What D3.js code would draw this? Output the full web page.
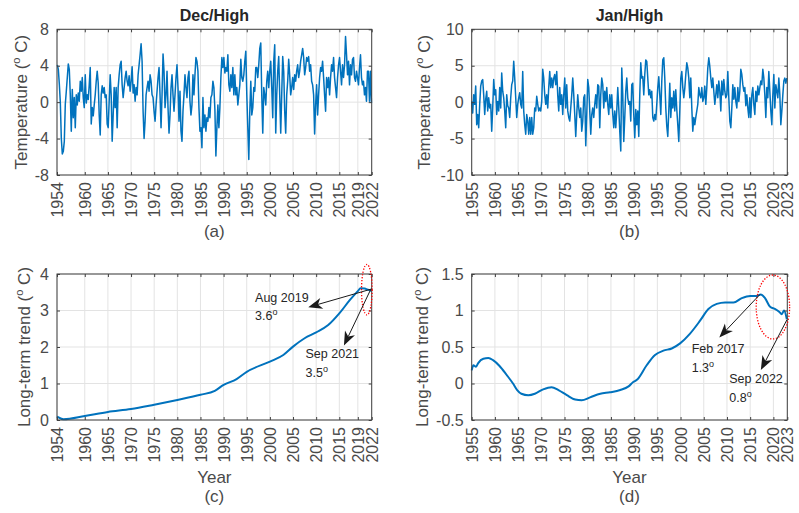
<!DOCTYPE html>
<html><head><meta charset="utf-8">
<script src="https://cdn.jsdelivr.net/npm/d3@7"></script>
<style>body{margin:0;background:#fff}</style>
</head><body><svg id="c" width="799" height="513"></svg>
<script>
// ---------------- DATA ----------------
// (a) Dec/High monthly anomalies (sampled evenly from 1954.07 to 2021.95)
const decHigh = [4.1,3.6,2.0,0.0,-4.0,-5.7,-5.4,-4.3,-0.2,1.2,2.7,4.2,
3.6,0.8,-3.2,1.4,-1.7,0.5,-2.8,0.8,-0.3,1.0,0.1,2.3,1.2,2.7,0.5,-0.6,
3.0,-0.1,0.8,0.3,1.9,3.8,-2.4,-0.6,-1.5,-0.3,0.8,2.3,3.4,2.1,-1.4,-3.6,0.8,1.8,1.0,1.6,0.5,0.8,-2.4,-2.8,0.1,3.0,0.8,-4.3,-1.4,1.6,-0.6,1.6,-2.8,1.6,3.0,4.1,4.5,1.9,0.5,1.6,2.7,3.4,2.3,1.8,2.9,1.2,2.3,3.9,1.0,1.9,0.1,1.6,0.8,3.0,4.1,5.2,6.4,4.5,-1.0,-4.0,-2.1,0.8,1.6,2.3,1.2,3.0,2.3,0.8,0.5,-1.0,-2.1,-0.3,1.2,2.7,3.8,0.8,-2.8,0.8,5.3,3.4,-0.6,0.8,3.4,-0.6,-3.4,-1.4,1.6,3.0,0.8,-1.0,0.8,2.7,4.1,1.6,-2.1,1.2,-3.2,-4.3,-1.0,0.8,3.0,1.6,0.5,2.7,3.4,0.1,-1.4,-0.3,3.0,0.8,3.0,4.9,4.5,3.4,-0.6,-3.2,-2.8,-5.0,0.5,-2.8,-1.4,-3.2,-1.7,-2.1,-0.6,-1.7,0.5,0.8,2.3,
1.6,-0.8,-5.9,-2.8,-0.3,-2.8,-0.6,2.7,4.9,3.8,4.9,3.2,3.8,3.4,5.2,1.9,1.2,3.0,1.6,3.8,0.8,3.0,0.8,1.6,-0.3,0.8,1.9,4.7,2.7,2.3,3.0,4.5,5.6,0.8,-2.8,-6.3,-1.0,2.3,-1.4,-0.6,1.6,1.2,3.8,3.8,2.7,4.1,5.9,6.5,0.8,-3.4,1.6,0.8,-0.3,2.3,3.4,1.6,3.4,4.5,1.6,-1.7,4.5,6.3,-3.4,0.8,3.4,5.0,0.8,-3.4,0.8,5.0,3.4,-1.0,-3.4,0.8,2.3,4.7,3.0,0.8,1.6,2.7,1.4,3.0,2.3,3.4,4.1,2.7,3.4,4.5,5.2,5.9,4.9,3.0,3.8,4.9,4.5,5.0,3.4,4.1,2.3,1.9,0.8,-3.5,-0.3,1.9,-1.4,0.8,2.7,3.8,3.4,4.5,2.7,0.8,-1.0,2.7,1.6,2.7,0.8,2.7,4.1,3.4,4.9,2.7,1.6,0.5,2.7,4.1,4.9,3.4,1.9,4.1,2.7,4.1,7.2,5.2,3.0,4.5,1.9,4.1,3.0,4.7,4.9,2.7,2.3,3.4,2.7,1.9,3.8,5.2,2.7,1.9,2.3,0.8,1.6,0.1,3.4,3.4,0.1,3.4,-0.1];
const decSpan = [1954.07, 2021.95];

// (b) Jan/High monthly anomalies (sampled evenly from 1955.0 to 2022.9)
const janHigh = [0.1,-1.5,1.0,-0.3,2.2,-3.1,-1.7,-3.5,-0.3,2.2,2.9,3.1,1.0,-1.7,0.4,1.5,-1.2,0.6,-0.8,-0.3,-4.0,-0.8,3.1,1.0,1.7,-1.7,0.1,-1.2,2.0,-0.8,4.0,1.5,0.6,-1.2,-3.5,1.0,-0.5,-0.8,-2.1,0.6,2.4,2.9,5.6,3.3,0.6,-2.1,-0.3,0.6,1.3,-0.3,-0.8,4.2,-1.2,-3.1,-4.4,-1.7,-2.6,-4.4,-2.1,-4.4,-2.1,-4.4,-3.5,-0.8,-1.2,0.8,-0.3,-1.2,-0.8,-1.2,0.1,4.5,3.3,1.0,-0.3,1.0,-0.8,2.0,4.2,2.0,3.3,2.0,3.3,3.8,2.4,4.2,1.0,-1.2,2.0,-0.3,1.0,-1.7,1.0,3.3,-0.8,2.4,-1.2,-2.1,-2.6,-0.8,1.0,3.3,1.0,-1.7,-4.7,-1.7,1.0,-0.8,-2.1,-0.8,-4.0,-2.6,0.6,1.0,-6.0,-1.7,3.1,2.0,-1.2,-4.4,-1.7,-0.8,-2.1,-0.3,1.0,-0.8,2.4,2.2,-3.5,1.0,3.3,2.4,-0.8,1.5,0.1,2.0,-0.3,-1.7,1.0,-0.8,1.0,-1.7,-3.5,-1.2,-3.5,-1.2,2.0,-0.8,-4.0,-6.7,4.7,1.0,-5.4,-2.1,1.5,3.3,0.6,-0.3,
0.1,-2.6,2.4,2.6,-1.7,-4.9,-1.0,-3.1,-1.2,-4.7,1.0,5.4,3.3,3.5,1.0,3.8,5.8,5.6,3.3,1.0,1.7,0.6,1.5,-2.1,-2.6,-1.7,-2.4,-0.3,2.0,3.5,1.0,-1.7,2.9,5.8,6.1,3.3,-0.8,-3.3,-4.7,-1.2,2.6,-2.1,0.6,-0.8,1.5,-1.2,1.7,-1.0,-3.1,-5.4,-1.2,3.3,4.2,2.0,0.6,1.9,3.8,5.4,4.7,3.3,0.6,3.3,-0.8,-4.0,-2.1,-3.1,-2.1,-1.2,-0.3,2.0,1.0,0.6,2.0,0.1,0.6,2.2,-0.3,2.0,4.7,6.1,4.9,3.3,2.0,3.3,1.5,-0.3,1.0,2.4,0.6,2.9,1.5,-1.2,2.9,1.0,3.1,1.5,0.6,1.0,4.2,0.6,-2.6,-3.5,-0.8,2.4,0.4,2.0,0.1,-0.8,2.0,0.1,1.5,4.5,3.8,2.4,1.5,2.0,-0.5,1.0,-0.8,-2.1,0.6,-2.1,1.0,2.0,-0.3,-1.7,1.5,0.1,2.2,1.0,2.0,2.9,2.4,4.5,3.3,1.0,-2.1,2.0,0.6,4.2,1.5,-1.2,-3.1,1.0,3.8,-0.8,2.4,1.5,0.6,3.3,1.0,-3.1,-1.2,1.0,2.9,3.3,2.6,3.3];
const janSpan = [1955.0, 2022.9];

// (c) Dec/High long-term trend
const decTrendYears = [1954.0,1955.4,1960,1965,1970,1975,1980,1985,1988.1,1990,1992.8,1995,2000,2002.9,2005,2007.5,2010,2012.6,2015,2017.3,2019,2019.6,2020.5,2021,2021.7,2022];
const decTrend = [0.09,0.02,0.11,0.22,0.30,0.42,0.55,0.69,0.80,0.96,1.12,1.32,1.60,1.78,2.01,2.24,2.40,2.60,2.92,3.29,3.53,3.61,3.60,3.58,3.55,3.53];

// (d) Jan/High long-term trend
const janTrendYears = [1955.0,1955.36,1955.93,1956.4,1957.5,1958.6,1959.6,1961.0,1962.5,1963.9,1964.8,1965.7,1967.2,1968.6,1970.4,1972.2,1973.7,1975.5,1977.3,1978.7,1980.5,1982.7,1984.8,1987.0,1988.8,1989.8,1990.6,1992.7,1994.5,1996.3,1998.1,1999.9,2002.0,2004.2,2006.0,2007.8,2009.6,2011.4,2013.2,2015.0,2016.4,2017.3,2018.2,2019.3,2020.4,2021.3,2021.8,2022.3,2022.9];
const janTrend = [0.18,0.25,0.23,0.28,0.34,0.35,0.32,0.24,0.12,0.0,-0.09,-0.14,-0.16,-0.14,-0.08,-0.05,-0.09,-0.16,-0.22,-0.23,-0.19,-0.14,-0.12,-0.09,-0.04,0.02,0.05,0.25,0.39,0.45,0.48,0.55,0.68,0.86,1.02,1.09,1.11,1.11,1.17,1.20,1.20,1.22,1.17,1.05,1.02,0.98,0.95,1.00,0.88];

// Tick labels
const decYearTicks = [1954,1960,1965,1970,1975,1980,1985,1990,1995,2000,2005,2010,2015,2019,2022];
const janYearTicks = [1955,1960,1965,1970,1975,1980,1985,1990,1995,2000,2005,2010,2015,2020,2023];
const tempTicksA = [-8,-4,0,4,8];
const tempTicksB = [-10,-5,0,5,10];
const trendTicksC = [0,1,2,3,4];
const trendTicksD = [-0.5,0,0.5,1,1.5];

// Annotations (data units)
const annC = [
  {from:[2022,3.59], to:[2008.3,3.09], label:"Aug 2019", val:"3.6", tx:1996.8, ty:3.24},
  {from:[2021.8,3.58], to:[2016.0,2.04], label:"Sep 2021", val:"3.5", tx:2007.7, ty:1.69}
];
const ellC = {cx:2020.95, cy:3.57, rx:1.15, ry:0.69};
const annD = [
  {from:[2017.1,1.22], to:[2008.35,0.63], label:"Feb 2017", val:"1.3", tx:2002.4, ty:0.414},
  {from:[2022.9,0.87], to:[2017.3,0.185], label:"Sep 2022", val:"0.8", tx:2010.5, ty:0.003}
];
const ellD = {cx:2019.9, cy:1.048, rx:3.6, ry:0.438};

// ---------------- DRAW ----------------
const FONT = "'Liberation Sans', Arial, Helvetica, sans-serif";
const AX = "#404040";
const BLUE = "#0072BD";
const svg = d3.select('#c').attr('font-family', FONT);

function evenSeries(vals, span){
  const step = (span[1]-span[0])/(vals.length-1);
  return vals.map((v,i)=>({t: span[0]+i*step, v}));
}

function panel(cfg){
  const x = d3.scaleLinear().domain(cfg.xDomain).range([cfg.left, cfg.right]);
  const y = d3.scaleLinear().domain(cfg.yDomain).range([cfg.bottom, cfg.top]);
  const g = svg.append('g');
  // grid
  g.append('g').selectAll('line').data(cfg.xTicks).join('line')
    .attr('x1',d=>x(d)).attr('x2',d=>x(d)).attr('y1',cfg.top).attr('y2',cfg.bottom)
    .attr('stroke','#e3e3e3').attr('stroke-width',1);
  g.append('g').selectAll('line').data(cfg.yTicks).join('line')
    .attr('y1',d=>y(d)).attr('y2',d=>y(d)).attr('x1',cfg.left).attr('x2',cfg.right)
    .attr('stroke','#e3e3e3').attr('stroke-width',1);
  // data
  const line = d3.line().x(d=>x(d.t)).y(d=>y(d.v));
  if (cfg.smooth) line.curve(d3.curveMonotoneX);
  g.append('path').datum(cfg.series).attr('d', line)
    .attr('fill','none').attr('stroke',BLUE).attr('stroke-width',cfg.lw)
    .attr('stroke-linejoin','round');
  // axes
  const fmt = d=>String(d);
  const bottom = g.append('g').attr('transform',`translate(0,${cfg.bottom})`)
    .call(d3.axisBottom(x).tickValues(cfg.xTicks).tickSize(-3).tickSizeOuter(0).tickFormat(fmt));
  bottom.selectAll('text').attr('transform','rotate(-90)').attr('x',-7).attr('y',0)
    .attr('dy','0.35em').style('text-anchor','end');
  const top = g.append('g').attr('transform',`translate(0,${cfg.top})`)
    .call(d3.axisTop(x).tickValues(cfg.xTicks).tickSize(-3).tickSizeOuter(0).tickFormat(''));
  const left = g.append('g').attr('transform',`translate(${cfg.left},0)`)
    .call(d3.axisLeft(y).tickValues(cfg.yTicks).tickSize(-3).tickSizeOuter(0).tickPadding(8).tickFormat(fmt));
  const right = g.append('g').attr('transform',`translate(${cfg.right},0)`)
    .call(d3.axisRight(y).tickValues(cfg.yTicks).tickSize(-3).tickSizeOuter(0).tickFormat(''));
  [bottom,top,left,right].forEach(a=>{
    a.select('.domain').remove();
    a.attr('font-family',FONT).attr('font-size',16).attr('color',AX);
    a.selectAll('text').attr('fill','#4a4a4a');
  });
  g.append('rect').attr('x',cfg.left).attr('y',cfg.top)
    .attr('width',cfg.right-cfg.left).attr('height',cfg.bottom-cfg.top)
    .attr('fill','none').attr('stroke',AX).attr('stroke-width',1);
  // title
  if (cfg.title) g.append('text').attr('x',(cfg.left+cfg.right)/2).attr('y',cfg.top-8)
    .attr('text-anchor','middle').attr('font-size',16).attr('font-weight','bold')
    .attr('fill','#262626').text(cfg.title);
  // y label
  const yl = g.append('text').attr('transform',`translate(${cfg.ylabelX},${(cfg.top+cfg.bottom)/2}) rotate(-90)`)
    .attr('text-anchor','middle').attr('font-size',17).attr('fill','#4a4a4a');
  yl.append('tspan').text(cfg.ylabel+' (');
  yl.append('tspan').attr('font-size',11).attr('dy',-7).text('o');
  yl.append('tspan').attr('dy',7).text(' C)');
  // x label + caption
  if (cfg.xlabel) g.append('text').attr('x',(cfg.left+cfg.right)/2).attr('y',cfg.xlabelY)
    .attr('text-anchor','middle').attr('font-size',17).attr('fill','#4a4a4a').text(cfg.xlabel);
  g.append('text').attr('x',(cfg.left+cfg.right)/2).attr('y',cfg.captionY)
    .attr('text-anchor','middle').attr('font-size',17).attr('fill','#4a4a4a').text(cfg.caption);
  // annotations
  if (cfg.ell){
    const e = cfg.ell;
    g.append('ellipse').attr('cx',x(e.cx)).attr('cy',y(e.cy))
      .attr('rx',x(e.cx+e.rx)-x(e.cx)).attr('ry',y(e.cy)-y(e.cy+e.ry))
      .attr('fill','none').attr('stroke','#ff0000').attr('stroke-width',1.3)
      .attr('stroke-dasharray','1.3,1.6');
  }
  (cfg.ann||[]).forEach(a=>{
    const x1=x(a.from[0]), y1=y(a.from[1]), x2=x(a.to[0]), y2=y(a.to[1]);
    const dx=x2-x1, dy=y2-y1, len=Math.hypot(dx,dy), ux=dx/len, uy=dy/len;
    const L=14, W=5.5, N=4;
    const bx=x2-ux*L, by=y2-uy*L;
    g.append('line').attr('x1',x1).attr('y1',y1).attr('x2',x2-ux*(L-N)).attr('y2',y2-uy*(L-N))
      .attr('stroke','#1a1a1a').attr('stroke-width',1);
    g.append('path').attr('d',`M${x2},${y2}L${bx-uy*W},${by+ux*W}L${x2-ux*(L-N)},${y2-uy*(L-N)}L${bx+uy*W},${by-ux*W}Z`)
      .attr('fill','#1a1a1a');
    g.append('text').attr('x',x(a.tx)).attr('y',y(a.ty)).attr('font-size',12.5).attr('fill','#262626').text(a.label);
    const t2 = g.append('text').attr('x',x(a.tx)).attr('y',y(a.ty)+18.5).attr('font-size',12.5).attr('fill','#262626');
    t2.append('tspan').text(a.val);
    t2.append('tspan').attr('font-size',9).attr('dy',-5).text('o');
  });
}

panel({left:57,right:371.7,top:29.3,bottom:175,xDomain:[1954,2022],yDomain:[-8,8],
  xTicks:decYearTicks,yTicks:tempTicksA,series:evenSeries(decHigh,decSpan),lw:1.5,
  title:'Dec/High',ylabel:'Temperature',ylabelX:27,caption:'(a)',captionY:237});
panel({left:471.7,right:787.3,top:29.3,bottom:175,xDomain:[1955,2023],yDomain:[-10,10],
  xTicks:janYearTicks,yTicks:tempTicksB,series:evenSeries(janHigh,janSpan),lw:1.5,
  title:'Jan/High',ylabel:'Temperature',ylabelX:430,caption:'(b)',captionY:237});
panel({left:57,right:371.7,top:274,bottom:420,xDomain:[1954,2022],yDomain:[0,4],
  xTicks:decYearTicks,yTicks:trendTicksC,series:decTrendYears.map((t,i)=>({t,v:decTrend[i]})),lw:2,smooth:true,
  ylabel:'Long-term trend',ylabelX:30,xlabel:'Year',xlabelY:483,caption:'(c)',captionY:502,
  ann:annC,ell:ellC});
panel({left:471.7,right:787.3,top:274,bottom:420,xDomain:[1955,2023],yDomain:[-0.5,1.5],
  xTicks:janYearTicks,yTicks:trendTicksD,series:janTrendYears.map((t,i)=>({t,v:janTrend[i]})),lw:2,smooth:true,
  ylabel:'Long-term trend',ylabelX:428,xlabel:'Year',xlabelY:483,caption:'(d)',captionY:502,
  ann:annD,ell:ellD});
</script></body></html>
